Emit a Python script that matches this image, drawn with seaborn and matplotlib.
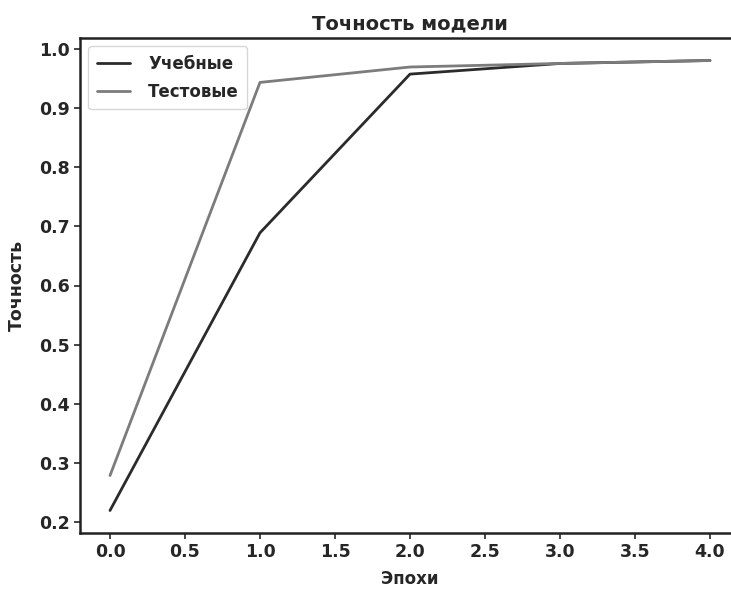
import pandas as pd
import matplotlib.pyplot as plt
import seaborn as sns

# values
epochs = [0, 1, 2, 3, 4]
train_acc = [0.220, 0.689, 0.957, 0.975, 0.980]
test_acc = [0.279, 0.943, 0.969, 0.975, 0.980]
series_names = ["Учебные", "Тестовые"]

df = pd.DataFrame({
    "epoch": epochs * 2,
    "acc": train_acc + test_acc,
    "series": [series_names[0]] * len(epochs) + [series_names[1]] * len(epochs),
})

sns.set_theme(style="ticks")
plt.rcParams["font.family"] = ["DejaVu Sans"]

fig = plt.figure(figsize=(7.31, 5.91), dpi=100)
ax = fig.add_axes([80 / 731, 58 / 591, 660 / 731, 495 / 591])

sns.lineplot(data=df, x="epoch", y="acc", hue="series",
             palette=["#2b2b2b", "#7c7c7c"], linewidth=2.0, ax=ax)

ax.set_title("Точность модели", fontsize=14, fontweight="bold", pad=6)
ax.set_xlabel("Эпохи", fontsize=12, fontweight="bold", labelpad=6)
ax.set_ylabel("Точность", fontsize=12.5, fontweight="bold", labelpad=9)
ax.tick_params(labelsize=12.5, length=4, width=1.2)
for lbl in ax.get_xticklabels() + ax.get_yticklabels():
    lbl.set_fontweight("bold")
for s in ax.spines.values():
    s.set_linewidth(1.8)
    s.set_color("#222222")

leg = ax.legend(loc="upper left", fontsize=12, frameon=True,
                handletextpad=1.1, labelspacing=0.6, borderpad=0.5)
for t in leg.get_texts():
    t.set_fontweight("bold")

plt.savefig("out.png", dpi=100)
